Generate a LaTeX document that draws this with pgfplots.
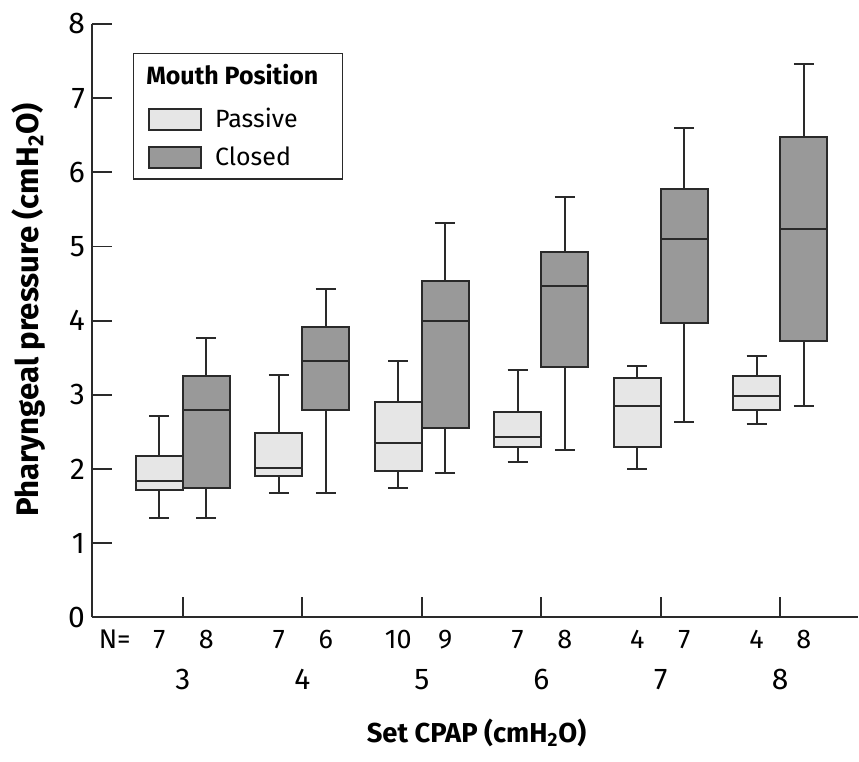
\documentclass[border=0pt]{standalone}
\usepackage{fontspec}
\setmainfont{Fira Sans}
\usepackage{pgfplots}
\pgfplotsset{compat=1.18}
\usepgfplotslibrary{statistics}
\definecolor{passive}{HTML}{E6E6E6}
\definecolor{closed}{HTML}{999999}
\definecolor{ink}{HTML}{2A2A2A}
\begin{document}
\begin{tikzpicture}
\begin{axis}[
  name=ax,
  scale only axis,
  width=383.5pt, height=297pt,
  xmin=2.239, xmax=8.652, ymin=0, ymax=8,
  axis x line=bottom, axis y line=left,
  axis line style={-, line width=0.9pt, ink},
  tick align=inside, major tick length=10pt,
  tick style={line width=0.9pt, ink},
  xtick={3,4,5,6,7,8}, xticklabels={3,4,5,6,7,8},
  ytick={0,1,...,8},
  /pgf/number format/assume math mode=true,
  tick label style={font=\fontsize{15}{18}\selectfont},
  xticklabel style={anchor=center, yshift=-31pt},
  extra x ticks={2.43,2.803,3.197,3.803,4.197,4.803,5.197,5.803,6.197,6.803,7.197,7.803,8.197},
  extra x tick labels={N=,7,8,7,6,10,9,7,8,4,7,4,8},
  extra x tick style={major tick length=0pt,
    every x tick label/.style={font=\fontsize{13.5}{16}\selectfont, anchor=center, yshift=-11pt}},
  xlabel={Set CPAP (cmH\textsubscript{2}O)},
  ylabel={Pharyngeal pressure (cmH\textsubscript{2}O)},
  xlabel style={font=\fontsize{13.7}{16}\selectfont\bfseries,
    at={(axis description cs:0.502,-0.194)}, anchor=center},
  ylabel style={font=\fontsize{15.6}{18}\selectfont\bfseries,
    at={(axis description cs:-0.083,0.518)}, anchor=center},
  boxplot/draw direction=y,
  boxplot/box extend=0.394,
  boxplot/whisker extend=0.167,
  legend image code/.code={\draw[#1, line width=1pt] (0pt,-5.25pt) rectangle (26pt,5.25pt); \path (31pt,0pt);},
  legend style={at={(0.0535,0.951)}, anchor=north west, draw=ink, line width=0.7pt,
    font=\fontsize{12.5}{15}\selectfont, inner xsep=7pt, inner ysep=3.5pt,
    row sep=4pt, cells={anchor=west}},
]
% Passive
\addplot[forget plot, fill=passive, draw=ink, line width=1pt, boxplot prepared={draw position=2.803,
  lower whisker=1.34, lower quartile=1.72, median=1.84, upper quartile=2.18, upper whisker=2.71}] coordinates {};
\addplot[forget plot, fill=passive, draw=ink, line width=1pt, boxplot prepared={draw position=3.803,
  lower whisker=1.67, lower quartile=1.91, median=2.02, upper quartile=2.49, upper whisker=3.27}] coordinates {};
\addplot[forget plot, fill=passive, draw=ink, line width=1pt, boxplot prepared={draw position=4.803,
  lower whisker=1.75, lower quartile=1.97, median=2.35, upper quartile=2.90, upper whisker=3.45}] coordinates {};
\addplot[forget plot, fill=passive, draw=ink, line width=1pt, boxplot prepared={draw position=5.803,
  lower whisker=2.10, lower quartile=2.30, median=2.43, upper quartile=2.77, upper whisker=3.34}] coordinates {};
\addplot[forget plot, fill=passive, draw=ink, line width=1pt, boxplot prepared={draw position=6.803,
  lower whisker=2.00, lower quartile=2.30, median=2.85, upper quartile=3.23, upper whisker=3.39}] coordinates {};
\addplot[forget plot, fill=passive, draw=ink, line width=1pt, boxplot prepared={draw position=7.803,
  lower whisker=2.60, lower quartile=2.79, median=2.99, upper quartile=3.26, upper whisker=3.53}] coordinates {};
% Closed
\addplot[forget plot, fill=closed, draw=ink, line width=1pt, boxplot prepared={draw position=3.197,
  lower whisker=1.34, lower quartile=1.75, median=2.79, upper quartile=3.26, upper whisker=3.77}] coordinates {};
\addplot[forget plot, fill=closed, draw=ink, line width=1pt, boxplot prepared={draw position=4.197,
  lower whisker=1.67, lower quartile=2.79, median=3.46, upper quartile=3.92, upper whisker=4.43}] coordinates {};
\addplot[forget plot, fill=closed, draw=ink, line width=1pt, boxplot prepared={draw position=5.197,
  lower whisker=1.94, lower quartile=2.55, median=4.00, upper quartile=4.54, upper whisker=5.32}] coordinates {};
\addplot[forget plot, fill=closed, draw=ink, line width=1pt, boxplot prepared={draw position=6.197,
  lower whisker=2.25, lower quartile=3.37, median=4.47, upper quartile=4.93, upper whisker=5.67}] coordinates {};
\addplot[forget plot, fill=closed, draw=ink, line width=1pt, boxplot prepared={draw position=7.197,
  lower whisker=2.63, lower quartile=3.97, median=5.10, upper quartile=5.78, upper whisker=6.60}] coordinates {};
\addplot[forget plot, fill=closed, draw=ink, line width=1pt, boxplot prepared={draw position=8.197,
  lower whisker=2.85, lower quartile=3.72, median=5.24, upper quartile=6.47, upper whisker=7.46}] coordinates {};
% legend
\addlegendimage{empty legend}
\addlegendentry{\hspace*{-34.5pt}\raisebox{2pt}{\textbf{Mouth Position}}\rule{3pt}{0pt}}
\addlegendimage{fill=passive, draw=ink}
\addlegendentry{Passive}
\addlegendimage{fill=closed, draw=ink}
\addlegendentry{Closed}
\end{axis}
\path ([xshift=-46pt,yshift=-72pt]ax.south west) rectangle ([yshift=12pt]ax.north east);
\end{tikzpicture}
\end{document}
